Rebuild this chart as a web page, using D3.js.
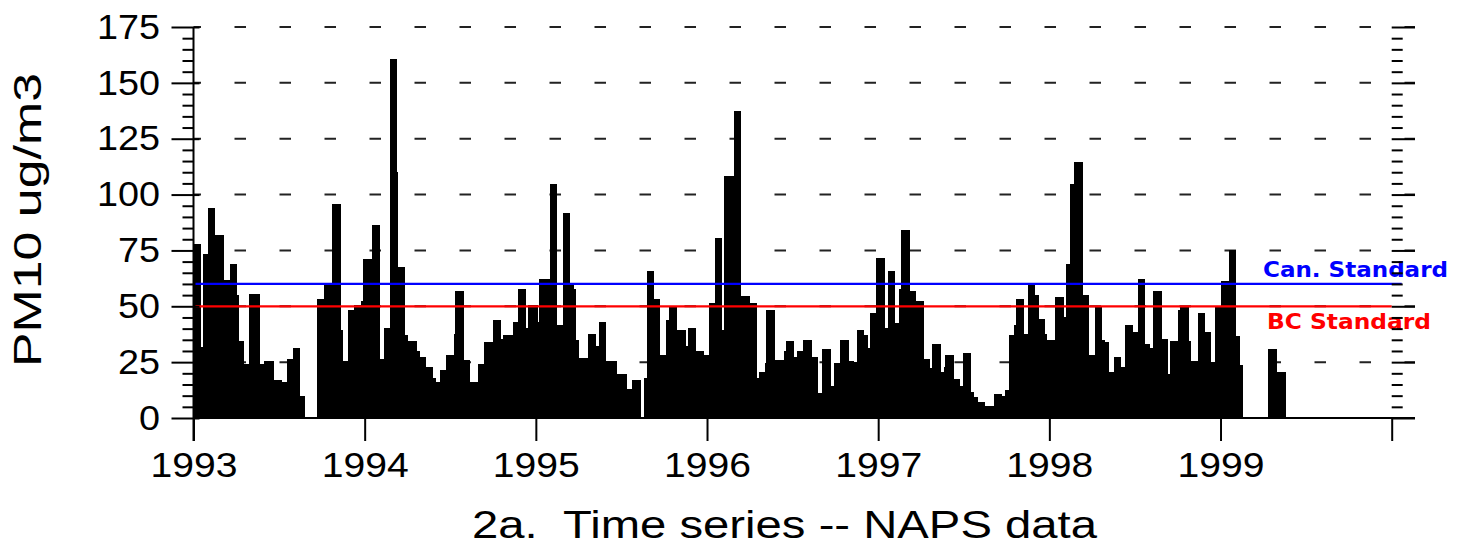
<!DOCTYPE html>
<html>
<head>
<meta charset="utf-8">
<script src="https://cdn.jsdelivr.net/npm/d3@7"></script>
<style>
  html, body { margin: 0; padding: 0; background: #fff; }
  svg { display: block; }
</style>
</head>
<body>
<div id="chart"></div>
<script>
// sample start (decimal year) and PM10 value; each bar runs until the next sample
var sampleYear = [
  1993.000, 1993.044, 1993.057, 1993.083, 1993.126, 1993.178, 1993.213, 1993.256, 1993.268, 1993.295,
  1993.326, 1993.389, 1993.412, 1993.472, 1993.516, 1993.548, 1993.583, 1993.622, 1993.652, 1993.720,
  1993.765, 1993.808, 1993.862, 1993.876, 1993.901, 1993.938, 1993.977, 1993.989, 1994.045, 1994.090,
  1994.113, 1994.148, 1994.191, 1994.197, 1994.236, 1994.255, 1994.305, 1994.324, 1994.357, 1994.402,
  1994.416, 1994.441, 1994.474, 1994.523, 1994.528, 1994.583, 1994.616, 1994.661, 1994.698, 1994.752,
  1994.797, 1994.811, 1994.866, 1994.898, 1994.942, 1994.957, 1995.012, 1995.021, 1995.080, 1995.123,
  1995.158, 1995.201, 1995.220, 1995.234, 1995.255, 1995.302, 1995.352, 1995.370, 1995.411, 1995.477,
  1995.534, 1995.561, 1995.615, 1995.629, 1995.649, 1995.693, 1995.727, 1995.760, 1995.775, 1995.824,
  1995.877, 1995.888, 1995.937, 1995.984, 1996.009, 1996.044, 1996.087, 1996.101, 1996.155, 1996.200,
  1996.253, 1996.292, 1996.301, 1996.340, 1996.346, 1996.399, 1996.451, 1996.463, 1996.511, 1996.525,
  1996.561, 1996.613, 1996.648, 1996.672, 1996.726, 1996.742, 1996.774, 1996.827, 1996.856, 1996.876,
  1996.919, 1996.938, 1996.954, 1996.987, 1997.042, 1997.057, 1997.096, 1997.119, 1997.133, 1997.188,
  1997.223, 1997.265, 1997.305, 1997.314, 1997.369, 1997.382, 1997.392, 1997.445, 1997.480, 1997.493,
  1997.544, 1997.558, 1997.583, 1997.626, 1997.675, 1997.724, 1997.739, 1997.766, 1997.796, 1997.807,
  1997.850, 1997.876, 1997.918, 1997.942, 1997.973, 1997.987, 1998.031, 1998.084, 1998.099, 1998.119,
  1998.142, 1998.197, 1998.234, 1998.269, 1998.308, 1998.327, 1998.347, 1998.380, 1998.419, 1998.444,
  1998.489, 1998.516, 1998.557, 1998.586, 1998.604, 1998.659, 1998.692, 1998.703, 1998.750, 1998.766,
  1998.814, 1998.830, 1998.869, 1998.912, 1998.947, 1998.966, 1999.000, 1999.052, 1999.093, 1999.116,
  1999.132, 1999.278, 1999.331
];
var lastSampleEnd = 1999.385;

var pm10 = [
  78, 32, 73.5, 94, 82, 61.6, 69, 55, 34.4, 24,
  55.4, 24, 25.6, 17, 16, 26.6, 31.5, 9.8, 0, 53.4,
  59.8, 96, 39.6, 25.6, 48.2, 50.4, 52.2, 71, 86.6, 26.3,
  40.3, 160.6, 110, 67.4, 37, 34.4, 30, 27.4, 23, 17.7,
  16, 21.4, 28.4, 37.8, 56.8, 26, 16.2, 24, 33.8, 44,
  35.3, 37, 43, 57.9, 40.5, 50.4, 43, 62.4, 104.8, 41.5,
  91.8, 59.4, 57.9, 35, 27, 37.8, 32.3, 43, 25.6, 19.5,
  13.2, 17, 0, 17.7, 65.6, 53.4, 28.4, 43.7, 50.1, 39.6,
  32.3, 40.5, 30, 28.4, 51.6, 80.5, 39.6, 108.5, 137.5, 54.5,
  51.5, 17.7, 20.7, 24.4, 48.2, 26, 30, 34.4, 27.4, 30,
  35, 27.4, 11, 30.8, 14.3, 24.5, 35, 25.6, 24.9, 39.6,
  37, 31.5, 47.2, 71.7, 40.5, 65.8, 42.3, 57.9, 84, 56.8,
  52.2, 26.3, 22.2, 33.3, 20.7, 23, 28.1, 17.4, 14.4, 29.2,
  11.8, 9.5, 7.3, 5.5, 10.6, 9.8, 12.5, 37, 41.5, 53.4,
  37.4, 59.7, 54.9, 44.5, 37.8, 35, 54.2, 45, 69, 104.8,
  114.4, 55.2, 28.4, 50.1, 35, 34, 20.4, 27.4, 23, 41.5,
  38.5, 62.4, 33, 31.5, 56.8, 35.3, 19.5, 34.4, 48.2, 50.1,
  34.4, 25.6, 47.2, 38.5, 25, 50.1, 61.3, 75, 36.8, 23.7,
  0, 30.8, 20.4
];

var yearTicks = [1993, 1994, 1995, 1996, 1997, 1998, 1999, 2000];
var yearLabels = ["1993", "1994", "1995", "1996", "1997", "1998", "1999", ""];
var yMajor = [0, 25, 50, 75, 100, 125, 150, 175];
var yMinor = d3.range(0, 176, 5).filter(function(v){ return v % 25 !== 0; });

var standards = [
  { name: "Can. Standard", value: 60, color: "#0000ff" },
  { name: "BC Standard", value: 50, color: "#ff0000" }
];

var W = 1468, H = 552;
var x0 = 193.5, xEnd = 1391.7, axisRight = 1415;

var svg = d3.select("#chart").append("svg")
    .attr("width", W)
    .attr("height", H)
    .style("background", "#fff");

var x = d3.scaleLinear().domain([1993, 2000]).range([x0, xEnd]);
var y = d3.scaleLinear().domain([0, 175]).range([418, 27]);

var font = "'Liberation Sans', Arial, sans-serif";

// dashed grid at the major values
svg.append("g").selectAll("line")
    .data(yMajor.filter(function(v){ return v > 0; }))
    .enter().append("line")
        .attr("x1", x0).attr("x2", axisRight)
        .attr("y1", function(d){ return y(d); })
        .attr("y2", function(d){ return y(d); })
        .attr("stroke", "#222")
        .attr("stroke-width", 2)
        .attr("stroke-dasharray", "11.5 33.5")
        .attr("stroke-dashoffset", 4);

// bars
var bars = sampleYear.map(function(t, i){
    return { start: t, end: i < sampleYear.length - 1 ? sampleYear[i + 1] : lastSampleEnd, value: pm10[i] };
});
svg.append("g").selectAll("rect")
    .data(bars)
    .enter().append("rect")
        .attr("x", function(d){ return x(d.start); })
        .attr("width", function(d){ return x(d.end) - x(d.start); })
        .attr("y", function(d){ return y(d.value); })
        .attr("height", function(d){ return y(0) - y(d.value); })
        .attr("fill", "#000")
        .attr("shape-rendering", "crispEdges");

// standards
svg.append("g").selectAll("line")
    .data(standards)
    .enter().append("line")
        .attr("x1", x0 + 2)
        .attr("x2", function(d, i){ return i === 0 ? xEnd + 10 : xEnd; })
        .attr("y1", function(d){ return y(d.value); })
        .attr("y2", function(d){ return y(d.value); })
        .attr("stroke", function(d){ return d.color; })
        .attr("stroke-width", 2.2);

svg.append("g").selectAll("text")
    .data(standards)
    .enter().append("text")
        .attr("x", function(d, i){ return i === 0 ? 1263 : 1267; })
        .attr("y", function(d, i){ return i === 0 ? 277 : 329; })
        .attr("fill", function(d){ return d.color; })
        .attr("font-family", "'DejaVu Sans', Verdana, sans-serif")
        .attr("font-weight", "bold")
        .attr("font-size", "22px")
        .attr("textLength", function(d, i){ return i === 0 ? 185 : 164; })
        .attr("lengthAdjust", "spacingAndGlyphs")
        .text(function(d){ return d.name; });

// Y axis (left)
var yAxis = svg.append("g")
    .attr("transform", "translate(" + x0 + ",0)")
    .call(d3.axisLeft(y).tickValues(yMajor).tickSizeInner(22).tickSizeOuter(0).tickPadding(11.5));
yAxis.select(".domain").remove();
yAxis.selectAll(".tick line").attr("x1", 6).attr("stroke-width", 2);
yAxis.selectAll(".tick text")
    .attr("font-family", font)
    .attr("font-size", "35px")
    .attr("fill", "#000")
    .attr("textLength", function(d){ return String(d).length * 21; })
    .attr("lengthAdjust", "spacingAndGlyphs");

var yMinorAxis = svg.append("g")
    .attr("transform", "translate(" + x0 + ",0)")
    .call(d3.axisLeft(y).tickValues(yMinor).tickSize(11).tickFormat(""));
yMinorAxis.select(".domain").remove();
yMinorAxis.selectAll(".tick line").attr("stroke-width", 2);

// right side ticks at 2000
var yRight = svg.append("g")
    .attr("transform", "translate(" + xEnd + ",0)")
    .call(d3.axisRight(y).tickValues(yMinor).tickSize(11).tickFormat(""));
yRight.select(".domain").remove();
yRight.selectAll(".tick line").attr("stroke-width", 2);
var yRightMajor = svg.append("g")
    .attr("transform", "translate(" + xEnd + ",0)")
    .call(d3.axisRight(y).tickValues(yMajor).tickSize(axisRight - xEnd).tickFormat(""));
yRightMajor.select(".domain").remove();
yRightMajor.selectAll(".tick line").attr("stroke-width", 2);

// X axis
var xAxis = svg.append("g")
    .attr("transform", "translate(0," + y(0) + ")")
    .call(d3.axisBottom(x).tickValues(yearTicks).tickSize(23).tickPadding(11)
        .tickFormat(function(d, i){ return yearLabels[i]; }));
xAxis.select(".domain").remove();
xAxis.selectAll(".tick line").attr("stroke-width", 2);
xAxis.selectAll(".tick text")
    .attr("font-family", font)
    .attr("font-size", "35px")
    .attr("fill", "#000")
    .attr("textLength", function(d, i){ return yearLabels[i] ? 87 : null; })
    .attr("lengthAdjust", "spacingAndGlyphs");

// axis lines
svg.append("line")
    .attr("x1", x0).attr("x2", axisRight)
    .attr("y1", y(0)).attr("y2", y(0))
    .attr("stroke", "#000").attr("stroke-width", 2);
svg.append("line")
    .attr("x1", x0).attr("x2", x0)
    .attr("y1", y(175)).attr("y2", y(0) + 23)
    .attr("stroke", "#000").attr("stroke-width", 2);

// titles
svg.append("text")
    .attr("transform", "translate(41,220) rotate(-90)")
    .attr("text-anchor", "middle")
    .attr("font-family", font)
    .attr("font-size", "38px")
    .attr("textLength", 294)
    .attr("lengthAdjust", "spacingAndGlyphs")
    .text("PM10 ug/m3");

svg.append("text")
    .attr("x", 472)
    .attr("y", 538)
    .attr("font-family", font)
    .attr("font-size", "38px")
    .attr("textLength", 625)
    .attr("lengthAdjust", "spacingAndGlyphs")
    .attr("xml:space", "preserve")
    .style("white-space", "pre")
    .text("2a.  Time series -- NAPS data");
</script>
</body>
</html>
